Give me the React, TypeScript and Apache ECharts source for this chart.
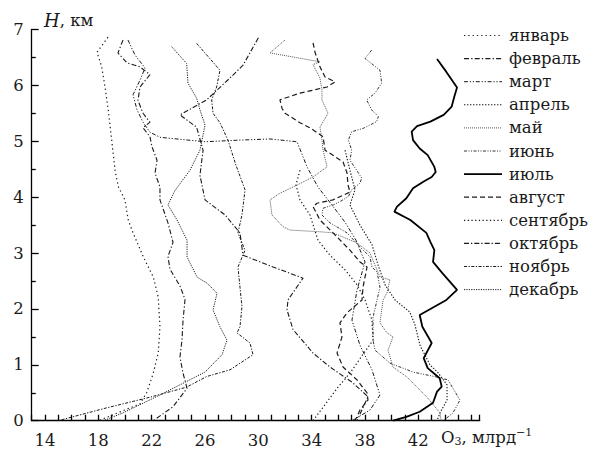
import React, { useEffect, useRef } from "react";
import * as echarts from "echarts";

const FONT = "DejaVu Serif";
const INK = "#1a1a1a";

const months = ["январь", "февраль", "март", "апрель", "май", "июнь", "июль", "август", "сентябрь", "октябрь", "ноябрь", "декабрь"];

const xLabels = [14, 18, 22, 26, 30, 34, 38, 42];

// [O3 ppb, H km]
const jan = [[18.72,6.86],[17.9,6.59],[18.25,6.33],[18.5,5.97],[18.74,5.56],[19.0,5.02],[19.25,4.48],[19.49,4.19],[19.99,3.95],[20.24,3.59],[20.62,3.35],[21.37,2.93],[22.12,2.57],[22.49,2.21],[22.62,1.68],[22.49,1.21],[22.12,0.85],[21.62,0.5],[21.12,0.3],[18.0,0]];
const feb = [[19.85,6.81],[19.47,6.58],[20.15,6.4],[21.12,6.33],[21.87,6.19],[21.12,5.97],[20.97,5.73],[21.35,5.5],[21.87,5.34],[21.35,5.24],[21.87,5.08],[22.02,4.9],[22.4,4.66],[22.25,4.43],[22.62,4.18],[22.62,3.95],[23.22,3.54],[23.6,3.19],[23.22,2.94],[23.37,2.71],[24.12,2.41],[24.5,2.17],[24.35,1.8],[24.27,1.44],[24.12,1.14],[24.35,0.85],[24.65,0.58],[23.6,0.25],[22.12,0]];
const mar = [[20.22,6.81],[20.75,6.54],[21.5,6.31],[21.12,6.09],[20.6,5.83],[20.9,5.56],[21.35,5.34],[21.87,5.16],[22.62,5.07],[26.0,4.99],[28.62,5.02],[30.87,5.04],[32.9,4.99],[33.35,4.72],[33.65,4.54],[34.47,4.18],[35.52,3.86],[36.5,3.55],[37.32,3.23],[38.0,2.84],[37.4,2.34],[37.02,1.8],[37.62,1.35],[38.52,0.91],[39.12,0.46],[38.37,0.19],[37.02,0]];
const apr = [[36.5,4.84],[36.87,4.48],[37.25,4.13],[36.87,3.86],[37.62,3.5],[38.52,3.15],[38.97,2.79],[39.5,2.43],[40.25,2.16],[41.37,1.94],[41.75,1.71],[42.12,1.35],[42.87,1.0],[43.47,0.86],[44.15,0.64],[44.15,0.37],[43.62,0.14],[43.4,0]];
const may = [[32.0,6.81],[30.87,6.58],[34.62,6.42],[34.1,6.37],[34.62,6.13],[34.77,5.92],[34.77,5.74],[35.22,5.5],[34.62,5.25],[34.77,5.02],[34.85,4.84],[35.15,4.54],[34.1,4.36],[32.6,4.18],[31.62,4.07],[30.87,3.95],[31.02,3.68],[31.85,3.47],[32.37,3.41],[34.62,3.38],[35.6,3.36],[37.4,3.18],[38.37,3.0],[39.12,2.57],[39.87,2.52],[39.65,2.29],[39.35,2.16],[39.12,1.75],[39.65,1.57],[40.1,1.5],[39.72,1.26],[40.1,0.96],[41.15,0.78],[41.9,0.6],[42.65,0.42],[43.62,0.14],[43.7,0]];
const jun = [[38.5,6.63],[38.0,6.48],[39.12,6.27],[39.25,6.04],[38.75,5.86],[38.12,5.74],[38.5,5.56],[39.0,5.44],[38.87,5.35],[37.87,5.23],[37.0,5.17],[36.75,5.02],[37.0,4.84],[36.87,4.66],[37.37,4.48],[37.75,4.34],[37.62,4.25],[37.0,4.13],[36.75,4.01],[36.12,3.92],[35.62,3.86],[34.85,3.8],[34.77,3.68],[35.37,3.54],[36.65,3.36],[37.62,3.11],[38.37,2.93],[38.52,2.75],[38.9,2.66],[39.12,2.39],[38.9,2.16],[38.6,1.85],[38.6,1.44],[38.75,1.26],[39.87,1.03],[41.6,0.87],[43.4,0.78],[44.22,0.73],[45.12,0.37],[44.6,0.14],[43.87,0]];
const jul = [[43.4,6.47],[44.1,6.24],[44.9,5.96],[44.7,5.8],[44.5,5.62],[43.9,5.47],[42.9,5.35],[41.9,5.27],[41.5,5.17],[41.6,5.02],[42.1,4.87],[42.7,4.75],[43.2,4.54],[43.3,4.45],[43.0,4.36],[42.4,4.28],[41.6,4.16],[41.1,3.98],[40.4,3.83],[40.2,3.74],[41.4,3.59],[42.6,3.36],[42.9,3.2],[43.2,3.05],[43.1,2.84],[43.8,2.64],[44.9,2.34],[44.1,2.16],[42.1,1.89],[42.3,1.68],[43.0,1.39],[42.4,1.12],[42.7,0.94],[43.6,0.76],[43.75,0.61],[43.4,0.52],[43.1,0.32],[42.1,0.16],[41.1,0.07],[40.1,0]];
const aug = [[34.1,6.76],[34.25,6.59],[34.62,6.33],[35.0,6.15],[35.75,6.06],[35.15,5.97],[33.12,5.86],[31.62,5.74],[31.77,5.59],[32.0,5.5],[33.12,5.33],[33.87,5.24],[34.85,5.08],[35.0,4.84],[36.35,4.63],[36.65,4.43],[36.72,4.22],[36.87,4.09],[35.6,3.95],[34.4,3.89],[34.1,3.83],[34.62,3.59],[35.6,3.36],[36.87,3.05],[37.62,2.84],[38.15,2.75],[37.85,2.39],[37.77,2.16],[36.65,1.93],[36.12,1.75],[36.27,1.5],[35.9,1.21],[36.35,0.96],[37.4,0.73],[38.15,0.5],[38.22,0.37],[37.62,0.19],[37.25,0]];
const sep = [[33.12,4.48],[32.82,4.22],[33.12,3.95],[33.87,3.68],[34.47,3.23],[35.37,2.96],[36.5,2.7],[37.4,2.43],[38.0,2.16],[38.52,1.8],[38.6,1.44],[37.77,1.16],[36.87,0.85],[35.97,0.6],[34.85,0.24],[34.1,0]];
const oct = [[30.0,6.85],[28.85,6.36],[27.87,6.13],[26.12,5.74],[24.12,5.47],[25.37,5.25],[25.85,4.84],[25.62,4.39],[26.0,3.95],[27.5,3.68],[28.62,3.36],[28.85,2.96],[31.1,2.75],[33.35,2.55],[32.22,2.16],[32.15,1.98],[32.6,1.63],[34.1,1.21],[35.37,0.96],[37.02,0.69],[38.22,0.43],[37.4,0]];
const nov = [[25.37,6.75],[27.12,6.27],[26.87,5.97],[26.5,5.74],[26.6,5.5],[27.12,5.33],[27.72,5.02],[28.32,4.57],[29.0,4.13],[28.77,3.68],[28.47,3.36],[29.0,3.05],[28.47,2.75],[28.62,2.39],[28.77,2.04],[28.62,1.68],[28.4,1.57],[29.37,1.39],[29.6,1.18],[27.87,0.91],[26.12,0.79],[24.62,0.6],[21.87,0.42],[18.62,0.23],[14.99,0]];
const dec = [[23.5,6.69],[24.62,6.39],[24.72,6.04],[25.37,5.77],[25.62,5.56],[26.0,5.29],[25.62,4.84],[24.87,4.48],[23.75,4.12],[23.22,3.86],[23.9,3.59],[24.65,3.23],[24.65,2.93],[25.4,2.57],[26.15,2.46],[26.9,2.28],[26.6,1.98],[27.12,1.68],[27.65,1.44],[27.27,1.18],[26.0,0.87],[22.62,0.46],[19.85,0.14],[18.37,0]];

const profiles = [jan, feb, mar, apr, may, jun, jul, aug, sep, oct, nov, dec];

const lineLooks: { dash: number[] | null; width: number; color: string }[] = [
  { dash: [1.3, 3], width: 1.2, color: INK },
  { dash: [5, 2.2, 1.3, 2.2], width: 1.1, color: INK },
  { dash: [4, 1.8, 1.2, 1.8, 1.2, 1.8], width: 1.0, color: INK },
  { dash: [1.4, 1.6], width: 1.1, color: INK },
  { dash: [1, 1], width: 1.0, color: "#555" },
  { dash: [3, 1.5, 1, 1.5, 1, 1.5], width: 1.0, color: "#333" },
  { dash: null, width: 1.8, color: "#000" },
  { dash: [5, 3], width: 1.2, color: INK },
  { dash: [1.3, 2.4], width: 1.2, color: INK },
  { dash: [5, 2, 1.3, 2], width: 1.1, color: INK },
  { dash: [3, 1.5, 1.3, 1.5], width: 1.0, color: INK },
  { dash: [1.2, 1.2], width: 1.0, color: INK },
];

const X_MIN = 13;
const X_MAX = 46.6;

const tickLine = { color: "#000", width: 1.3 };

export default function App() {
  const ref = useRef<HTMLDivElement>(null);
  useEffect(() => {
    if (!ref.current) return;
    const chart = echarts.init(ref.current, null, { renderer: "svg" });
    const series: any[] = profiles.map((data, i) => ({
      name: months[i],
      type: "line",
      data,
      showSymbol: false,
      symbol: "none",
      smooth: false,
      clip: false,
      z: i === 6 ? 5 : 3,
      lineStyle: {
        color: lineLooks[i].color,
        width: lineLooks[i].width,
        type: lineLooks[i].dash ?? "solid",
      },
    }));
    const legendGraphics: any[] = [];
    months.forEach((m, i) => {
      const y = 35.5 + i * 23.1;
      legendGraphics.push({
        type: "line",
        shape: { x1: 464, y1: y, x2: 502, y2: y },
        style: {
          stroke: lineLooks[i].color,
          lineWidth: lineLooks[i].width,
          lineDash: lineLooks[i].dash ?? undefined,
        },
      });
      legendGraphics.push({
        type: "text",
        x: 509,
        y: y,
        style: { text: m, fontSize: 16.5, fontFamily: FONT, fill: INK, verticalAlign: "middle", align: "left" },
      });
    });
    chart.setOption({
      animation: false,
      grid: { left: 31.7, right: 109.3, top: 29.4, bottom: 29.3, containLabel: false },
      xAxis: {
        type: "value",
        min: X_MIN,
        max: X_MAX,
        interval: 1,
        axisLine: { show: true, onZero: false, lineStyle: { color: "#000", width: 1.3 } },
        axisTick: { show: true, inside: true, length: 6, lineStyle: tickLine },
        axisLabel: {
          show: true,
          margin: 11,
          fontSize: 16.5,
          fontFamily: FONT,
          color: INK,
          formatter: (v: number) => (xLabels.includes(Math.round(v * 1000) / 1000) ? String(v) : ""),
        },
        splitLine: { show: false },
      },
      yAxis: {
        type: "value",
        min: 0,
        max: 7,
        interval: 1,
        axisLine: { show: true, onZero: false, lineStyle: { color: "#000", width: 1.3 } },
        axisTick: { show: true, inside: true, length: 7, lineStyle: tickLine },
        minorTick: { show: true, splitNumber: 2, length: 4, lineStyle: tickLine },
        axisLabel: { margin: 8, fontSize: 16.5, fontFamily: FONT, color: INK },
        splitLine: { show: false },
        minorSplitLine: { show: false },
      },
      graphic: [
        {
          type: "text",
          x: 44,
          y: 20,
          style: {
            text: "{i|H}{a|, км}",
            verticalAlign: "middle",
            rich: {
              i: { fontSize: 18, fontStyle: "italic", fontFamily: FONT, fill: INK },
              a: { fontSize: 16.5, fontFamily: FONT, fill: INK },
            },
          },
        },
        {
          type: "text",
          x: 441,
          y: 437,
          style: {
            text: "{a|O}{s|3}{a|, млрд}{p|−1}",
            verticalAlign: "middle",
            rich: {
              a: { fontSize: 16.5, fontFamily: FONT, fill: INK, lineHeight: 20, verticalAlign: "middle" },
              s: { fontSize: 11, fontFamily: FONT, fill: INK, lineHeight: 11, verticalAlign: "bottom" },
              p: { fontSize: 11, fontFamily: FONT, fill: INK, lineHeight: 11, verticalAlign: "top" },
            },
          },
        },
        ...legendGraphics,
      ],
      series,
    });
    return () => chart.dispose();
  }, []);
  return <div ref={ref} style={{ position: "fixed", left: 0, top: 0, width: 589, height: 450, background: "#fff" }} />;
}
